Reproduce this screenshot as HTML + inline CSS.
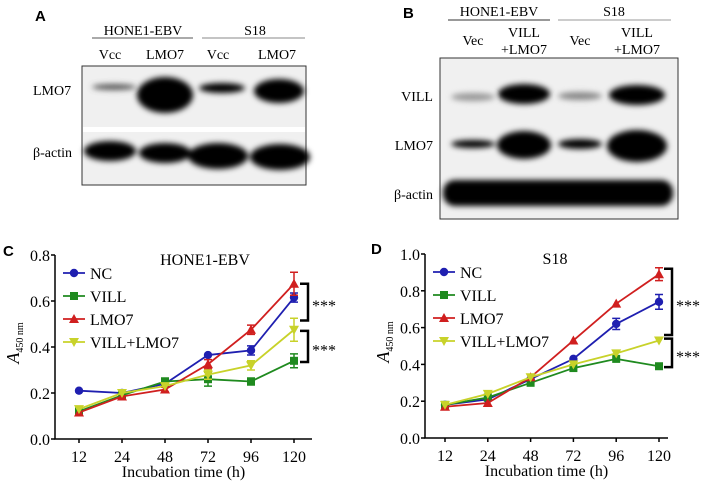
<!DOCTYPE html>
<html><head><meta charset="utf-8"><style>
body{margin:0;background:#fff}
svg{display:block;font-family:"Liberation Serif",serif}
.p{font-family:"Liberation Sans",sans-serif;font-weight:bold;font-size:15px}
</style></head><body>
<svg id="s" width="706" height="484" viewBox="0 0 706 484">
<defs>
<filter id="bl" x="-30%" y="-80%" width="160%" height="260%"><feGaussianBlur stdDeviation="3"/></filter>
</defs>
<g>
<text class="p" x="35" y="21">A</text>
<text x="143" y="35" font-size="14" text-anchor="middle">HONE1-EBV</text>
<line x1="92" y1="38" x2="193" y2="38" stroke="#555"/>
<text x="255" y="35" font-size="14" text-anchor="middle">S18</text>
<line x1="202" y1="38" x2="305" y2="38" stroke="#888"/>
<g font-size="14" text-anchor="middle">
<text x="110" y="59">Vcc</text><text x="165" y="59">LMO7</text><text x="218" y="59">Vcc</text><text x="277" y="59">LMO7</text></g>
<rect x="82" y="66" width="224" height="119" fill="#f0f0f0" stroke="#333"/>
<rect x="83" y="127" width="222" height="5" fill="#fff"/>
<g filter="url(#bl)" fill="#000">
<ellipse cx="114" cy="87" rx="22" ry="3" fill="#555"/>
<ellipse cx="165" cy="95" rx="28" ry="18"/>
<ellipse cx="222" cy="88" rx="23" ry="5"/>
<ellipse cx="279" cy="91" rx="25" ry="12"/>
<ellipse cx="110" cy="151" rx="26" ry="10"/>
<ellipse cx="165" cy="153" rx="26" ry="10"/>
<ellipse cx="218" cy="156" rx="30" ry="13"/>
<ellipse cx="280" cy="157" rx="30" ry="13"/>
</g>
<text x="33" y="95" font-size="14">LMO7</text>
<text x="33" y="157" font-size="14">β-actin</text>
</g>
<g>
<text class="p" x="403" y="18">B</text>
<text x="499" y="16" font-size="14" text-anchor="middle">HONE1-EBV</text>
<line x1="448" y1="20" x2="550" y2="20" stroke="#333"/>
<text x="614" y="16" font-size="14" text-anchor="middle">S18</text>
<line x1="558" y1="20" x2="671" y2="20" stroke="#999"/>
<g font-size="14" text-anchor="middle">
<text x="473" y="45">Vec</text><text x="524" y="37">VILL</text><text x="524" y="54">+LMO7</text>
<text x="580" y="45">Vec</text><text x="637" y="37">VILL</text><text x="637" y="54">+LMO7</text></g>
<rect x="440" y="58" width="238" height="161" fill="#f0f0f0" stroke="#333"/>
<g filter="url(#bl)" fill="#000">
<ellipse cx="473" cy="97" rx="22" ry="4" fill="#999"/>
<ellipse cx="524" cy="94" rx="26" ry="10"/>
<ellipse cx="580" cy="96" rx="22" ry="4" fill="#888"/>
<ellipse cx="637" cy="95" rx="28" ry="10"/>
<ellipse cx="473" cy="144" rx="22" ry="4"/>
<ellipse cx="524" cy="145" rx="27" ry="14"/>
<ellipse cx="580" cy="144" rx="22" ry="5"/>
<ellipse cx="637" cy="146" rx="30" ry="16"/>
<rect x="443" y="180" width="230" height="26" rx="12"/>
</g>
<text x="433" y="101" font-size="14" text-anchor="end">VILL</text>
<text x="433" y="150" font-size="14" text-anchor="end">LMO7</text>
<text x="433" y="199" font-size="14" text-anchor="end">β-actin</text>
</g>
<g id="cC"></g>
<g id="cD"></g>
</svg>
<script>
const categories=["12","24","48","72","96","120"];
const seriesNames=["NC","VILL","LMO7","VILL+LMO7"];
const colors=["#1f1fb0","#1f8a1f","#d01f1f","#c8d22a"];
const cNC=[0.21,0.20,0.24,0.365,0.385,0.615];
const cVILL=[0.12,0.19,0.25,0.26,0.25,0.34];
const cLMO7=[0.115,0.185,0.215,0.325,0.475,0.675];
const cVL=[0.13,0.20,0.23,0.28,0.32,0.475];
const cErr=[[0,0,0.01,0,0.02,0.02],[0,0,0.015,0.03,0.015,0.03],[0,0,0.01,0.02,0.02,0.05],[0,0,0,0.02,0.02,0.05]];
const cTicks=["0.0","0.2","0.4","0.6","0.8"];
const dNC=[0.18,0.21,0.32,0.43,0.62,0.74];
const dVILL=[0.18,0.22,0.30,0.38,0.43,0.39];
const dLMO7=[0.17,0.19,0.33,0.53,0.73,0.89];
const dVL=[0.18,0.24,0.33,0.40,0.46,0.53];
const dErr=[[0,0,0,0,0.03,0.04],[0,0,0,0,0,0],[0,0,0,0,0,0.035],[0,0,0,0,0,0]];
const dTicks=["0.0","0.2","0.4","0.6","0.8","1.0"];
const NS="http://www.w3.org/2000/svg";
function mk(p,t,a,txt){const e=document.createElementNS(NS,t);for(const k in a)e.setAttribute(k,a[k]);if(txt!=null)e.textContent=txt;p.appendChild(e);return e;}
function marker(g,i,x,y,c){
 if(i===0)return mk(g,"circle",{cx:x,cy:y,r:4.2,fill:c});
 if(i===1)return mk(g,"rect",{x:x-4,y:y-4,width:8,height:8,fill:c});
 if(i===2)return mk(g,"polygon",{points:`${x},${y-5} ${x-5},${y+4} ${x+5},${y+4}`,fill:c});
 return mk(g,"polygon",{points:`${x},${y+5} ${x-5},${y-4} ${x+5},${y-4}`,fill:c});
}
function chart(id,o){
 const g=document.getElementById(id);
 const ymax=parseFloat(o.ticks[o.ticks.length-1]);
 const X=i=>o.x0+o.dx*i;
 const Y=v=>o.yb-(o.yb-o.yt)*v/ymax;
 const lbl=mk(g,"text",{x:o.lx,y:o.ly,class:"p"},o.label);
 
 
 const ax=mk(g,"path",{d:`M${o.xl},${o.yt} V${o.yb} H${o.xr}`,stroke:"#000","stroke-width":1.5,fill:"none"});
 
 
 o.ticks.forEach(t=>{const y=Y(parseFloat(t));
  mk(g,"line",{x1:o.xl-4,x2:o.xl,y1:y,y2:y,stroke:"#000","stroke-width":1.5});
  const tt=mk(g,"text",{x:o.xl-5,y:y+6,"font-size":16,"text-anchor":"end"},t);
  
  });
 categories.forEach((c,i)=>{const x=X(i);
  mk(g,"line",{x1:x,x2:x,y1:o.yb,y2:o.yb+4,stroke:"#000","stroke-width":1.5});
  const tt=mk(g,"text",{x:x,y:o.yb+23,"font-size":16,"text-anchor":"middle"},c);
  
  });
 const xt=mk(g,"text",{x:(o.xl+o.xr)/2,y:o.yb+38,"font-size":16,"text-anchor":"middle"},"Incubation time (h)");
 
 
 const yt=mk(g,"text",{transform:`translate(${o.xl-36},${(o.yt+o.yb)/2-4}) rotate(-90)`,"text-anchor":"middle","font-size":18});
 
 
 mk(yt,"tspan",{"font-style":"italic"},"A");
 mk(yt,"tspan",{"font-size":10,dy:4},"450 nm");
 const tl=mk(g,"text",{x:o.tx,y:o.yt+10,"font-size":16,"text-anchor":"middle"},o.title);
 
 
 o.series.forEach((s,si)=>{const c=colors[si];
  const sg=mk(g,"g",{});
  
  
  mk(sg,"polyline",{points:s.map((v,i)=>X(i)+","+Y(v)).join(" "),fill:"none",stroke:c,"stroke-width":1.8});
  s.forEach((v,i)=>{const e=o.err[si][i];if(e>0){const x=X(i);
   mk(sg,"path",{d:`M${x},${Y(v-e)}V${Y(v+e)}M${x-4},${Y(v-e)}h8M${x-4},${Y(v+e)}h8`,stroke:c,"stroke-width":1.5,fill:"none"});}
   const m=marker(sg,si,X(i),Y(v),c);
   
   });
 });
 seriesNames.forEach((n,si)=>{const y=o.yt+18+si*23,x=o.xl+8;
  const lg=mk(g,"g",{});
  
  
  mk(lg,"line",{x1:x,x2:x+22,y1:y,y2:y,stroke:colors[si],"stroke-width":1.8});
  marker(lg,si,x+11,y,colors[si]);
  mk(lg,"text",{x:x+27,y:y+6,"font-size":16},n);});
 o.brackets.forEach(b=>{const y1=Y(b[0]),y2=Y(b[1]),x=o.bx;
  const br=mk(g,"path",{d:`M${x},${y1}h8V${y2}h-8`,stroke:"#000","stroke-width":2.5,fill:"none"});
  
  
  const st=mk(g,"text",{x:x+12,y:(y1+y2)/2+9,"font-size":16},"***");
  
  });
}
chart("cC",{label:"C",lx:3,ly:256,title:"HONE1-EBV",tx:205,x0:79,dx:43,xl:55,xr:312,yt:255,yb:439,ticks:cTicks,
 series:[cNC,cVILL,cLMO7,cVL],err:cErr,bx:300,brackets:[[0.675,0.515],[0.47,0.335]]});
chart("cD",{label:"D",lx:371,ly:254,title:"S18",tx:555,x0:445,dx:42.8,xl:425,xr:668,yt:254,yb:438,ticks:dTicks,
 series:[dNC,dVILL,dLMO7,dVL],err:dErr,bx:664,brackets:[[0.92,0.56],[0.54,0.385]]});
</script>
</body></html>
